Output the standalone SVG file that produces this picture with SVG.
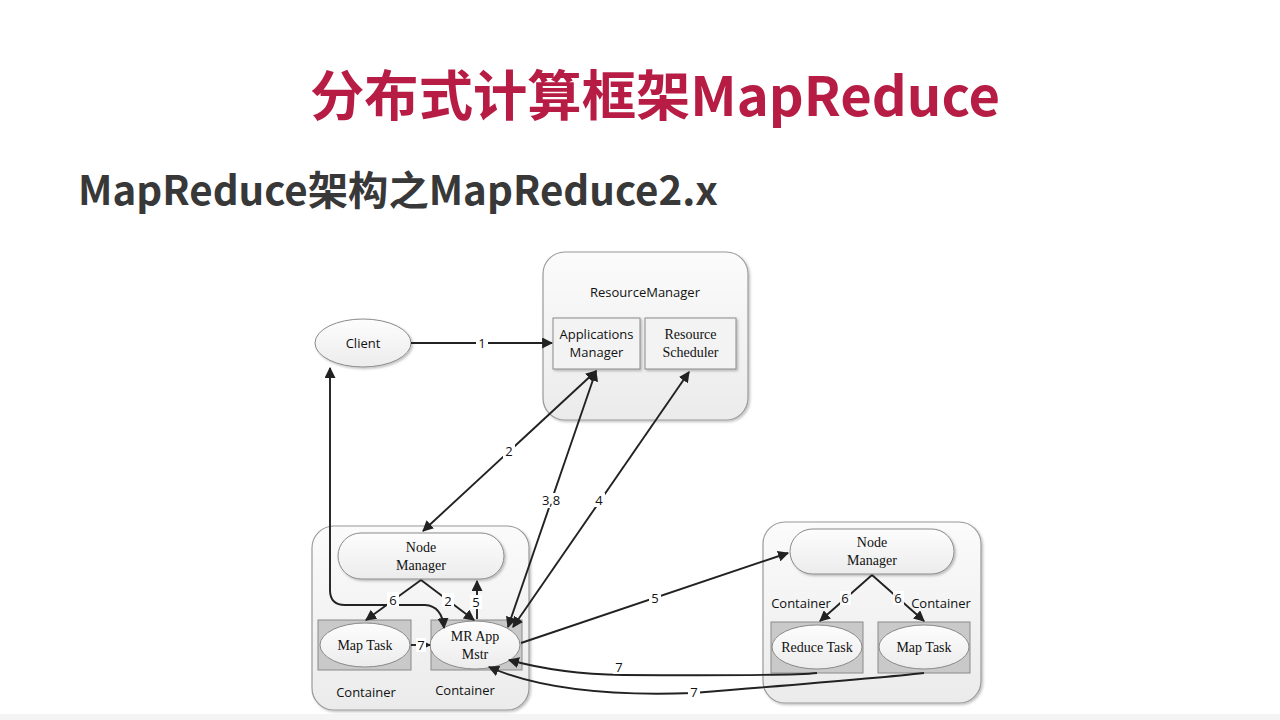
<svg xmlns="http://www.w3.org/2000/svg" width="1280" height="720" viewBox="0 0 1280 720">
<defs>
<linearGradient id="gBox" x1="0" y1="0" x2="0" y2="1">
<stop offset="0" stop-color="#fbfbfb"/><stop offset="1" stop-color="#ebebeb"/>
</linearGradient>
<linearGradient id="gPill" x1="0" y1="0" x2="0" y2="1">
<stop offset="0" stop-color="#fdfdfd"/><stop offset="1" stop-color="#ececec"/>
</linearGradient>
<marker id="ah" viewBox="0 0 10 10" refX="9" refY="5" markerWidth="11" markerHeight="11" markerUnits="userSpaceOnUse" orient="auto-start-reverse">
<path d="M0,0 L10,5 L0,10 z" fill="#222"/>
</marker>
<filter id="sh" x="-10%" y="-10%" width="125%" height="125%">
<feDropShadow dx="1.5" dy="1.5" stdDeviation="1.2" flood-color="#000" flood-opacity="0.25"/>
</filter>
</defs>
<style>
.box{fill:url(#gBox);stroke:#9a9a9a;stroke-width:1.2}
.inner{fill:#f3f3f3;stroke:#8a8a8a;stroke-width:1}
.cont{fill:#c9c9c9;stroke:#8a8a8a;stroke-width:1}
.ell{fill:url(#gPill);stroke:#8a8a8a;stroke-width:1}
.sans{font-family:"Open Sans","Liberation Sans",sans-serif;font-size:13px;fill:#111}
.serif{font-family:"Liberation Serif",serif;font-size:14px;fill:#111}
.lbl{font-family:"Open Sans","Liberation Sans",sans-serif;font-size:13px;fill:#111}
.bg{fill:#fff}
.c{stroke:#222;stroke-width:1.9;fill:none}
.a{marker-end:url(#ah)}
.b{marker-start:url(#ah);marker-end:url(#ah)}
</style>
<rect x="0" y="0" width="1280" height="720" fill="#ffffff"/>
<rect x="0" y="714" width="1280" height="6" fill="#f4f4f4"/>
<text x="655" y="116" text-anchor="middle" font-family="'Noto Sans CJK SC',sans-serif" font-weight="bold" font-size="54" fill="#b71c44" textLength="690" lengthAdjust="spacingAndGlyphs">分布式计算框架MapReduce</text>
<text x="78" y="205" font-family="'Noto Sans CJK SC',sans-serif" font-weight="bold" font-size="40" fill="#383838" textLength="640" lengthAdjust="spacingAndGlyphs">MapReduce架构之MapReduce2.x</text>

<g id="resourcemanager">
<rect class="box" x="543" y="252" width="205" height="168" rx="22" filter="url(#sh)"/>
<text class="sans" x="645" y="297" text-anchor="middle">ResourceManager</text>
</g>
<g id="appmanager">
<rect class="inner" x="553" y="318" width="87" height="51" filter="url(#sh)"/>
<text class="sans" x="596.5" y="339" text-anchor="middle">Applications</text>
<text class="sans" x="596.5" y="357" text-anchor="middle">Manager</text>
</g>
<g id="scheduler">
<rect class="inner" x="645" y="318" width="91" height="51" filter="url(#sh)"/>
<text class="serif" x="690.5" y="339" text-anchor="middle">Resource</text>
<text class="serif" x="690.5" y="357" text-anchor="middle">Scheduler</text>
</g>
<g id="client">
<ellipse class="ell" cx="363" cy="343" rx="48" ry="24" filter="url(#sh)"/>
<text class="sans" x="363" y="348" text-anchor="middle">Client</text>
</g>

<g id="node1">
<rect class="box" x="312" y="526" width="217" height="184" rx="22" filter="url(#sh)"/>
<text class="sans" x="366" y="697" text-anchor="middle">Container</text>
<text class="sans" x="465" y="695" text-anchor="middle">Container</text>
</g>
<g id="nm1">
<rect class="ell" x="338" y="533" width="166" height="46" rx="23" filter="url(#sh)"/>
<text class="serif" x="421" y="552" text-anchor="middle">Node</text>
<text class="serif" x="421" y="570" text-anchor="middle">Manager</text>
</g>
<g id="maptask1">
<rect class="cont" x="318" y="620" width="93" height="50"/>
<ellipse class="ell" cx="365" cy="645" rx="45" ry="22"/>
<text class="serif" x="365" y="650" text-anchor="middle">Map Task</text>
</g>
<g id="mrapp">
<rect class="cont" x="431" y="620" width="91" height="50"/>
<ellipse class="ell" cx="475" cy="645" rx="45" ry="24"/>
<text class="serif" x="475" y="641" text-anchor="middle">MR App</text>
<text class="serif" x="475" y="659" text-anchor="middle">Mstr</text>
</g>

<g id="node2">
<rect class="box" x="763" y="522" width="218" height="181" rx="22" filter="url(#sh)"/>
<text class="sans" x="801" y="608" text-anchor="middle">Container</text>
<text class="sans" x="941" y="608" text-anchor="middle">Container</text>
</g>
<g id="nm2">
<rect class="ell" x="790" y="529" width="164" height="45" rx="22.5" filter="url(#sh)"/>
<text class="serif" x="872" y="547" text-anchor="middle">Node</text>
<text class="serif" x="872" y="565" text-anchor="middle">Manager</text>
</g>
<g id="reducetask">
<rect class="cont" x="771" y="622" width="92" height="51"/>
<ellipse class="ell" cx="817" cy="647" rx="45" ry="22"/>
<text class="serif" x="817" y="652" text-anchor="middle">Reduce Task</text>
</g>
<g id="maptask2">
<rect class="cont" x="878" y="622" width="92" height="51"/>
<ellipse class="ell" cx="924" cy="647" rx="45" ry="22"/>
<text class="serif" x="924" y="652" text-anchor="middle">Map Task</text>
</g>

<g id="connectors">
<path class="c a" d="M411,343 L552,343"/>
<path class="c b" d="M596,371 L423,531"/>
<path class="c b" d="M596,371 L508,627"/>
<path class="c b" d="M689,372 L513,627"/>
<path class="c b" d="M330,368 L330,590 Q330,605 345,605 L425,605 Q442,606 444,628"/>
<path class="c a" d="M421,580 L366,620"/>
<path class="c a" d="M421,580 L474,620"/>
<path class="c a" d="M477,619 L477,581"/>
<path class="c a" d="M411,645 L430,645"/>
<path class="c a" d="M521,643 L788,553"/>
<path class="c a" d="M872,575 L820,621"/>
<path class="c a" d="M872,575 L924,621"/>
<path class="c a" d="M817,673 Q790,676 623,675 Q560,674 509,660"/>
<path class="c a" d="M924,673 Q880,678 693,693 Q560,698 489,667"/>
<g class="lbl" text-anchor="middle">
<rect class="bg" x="476" y="336" width="12" height="14"/>
<text x="482" y="348">1</text>
<rect class="bg" x="503" y="444" width="12" height="14"/>
<text x="509" y="456">2</text>
<rect class="bg" x="541" y="493" width="21" height="15"/>
<text x="551" y="505">3,8</text>
<rect class="bg" x="593" y="493" width="12" height="14"/>
<text x="599" y="505">4</text>
<rect class="bg" x="387" y="592" width="12" height="14"/>
<text x="393" y="605">6</text>
<rect class="bg" x="442" y="593" width="12" height="14"/>
<text x="448" y="606">2</text>
<rect class="bg" x="470" y="595" width="12" height="14"/>
<text x="476" y="607">5</text>
<rect class="bg" x="416" y="638" width="10" height="14"/>
<text x="421" y="650">7</text>
<rect class="bg" x="649" y="591" width="12" height="14"/>
<text x="655" y="603">5</text>
<rect class="bg" x="840" y="591" width="11" height="14" fill-opacity="0.9"/>
<text x="845" y="603">6</text>
<rect class="bg" x="893" y="591" width="11" height="14" fill-opacity="0.9"/>
<text x="898" y="603">6</text>
<rect class="bg" x="613" y="660" width="12" height="14"/>
<text x="619" y="672">7</text>
<rect class="bg" x="688" y="685" width="12" height="14"/>
<text x="694" y="697">7</text>
</g>
</g>
</svg>
